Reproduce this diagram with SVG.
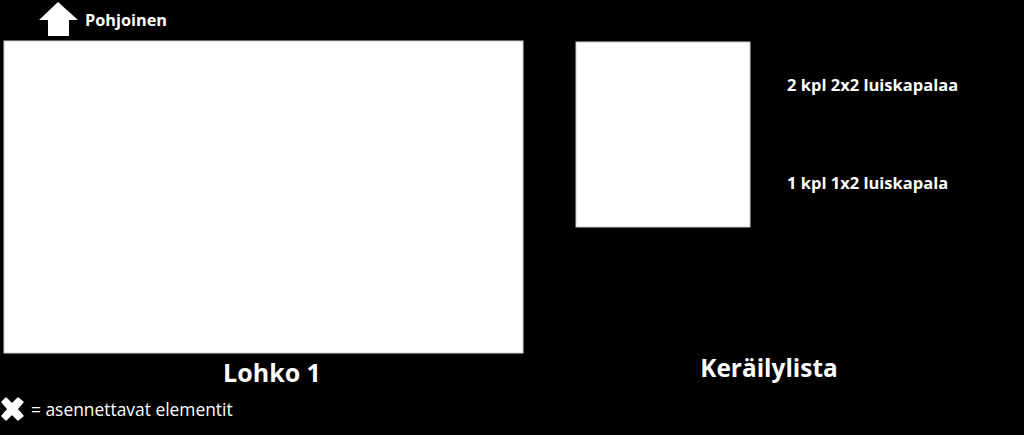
<svg xmlns="http://www.w3.org/2000/svg" width="1024" height="435" viewBox="0 0 1024 435">
<style>
text{fill:#fff;font-family:"Open Sans","Liberation Sans",sans-serif}
.b{font-weight:bold}
.blk{fill:#fff;stroke:#d0d0d0;stroke-width:1}
</style>
<rect x="0" y="0" width="1024" height="435" fill="#000"/>
<g id="north">
<polygon points="58,2 78,20 69,20 69,36 48,36 48,20 39,20" fill="#fff"/>
<text x="85" y="26" class="b" font-size="16.3">Pohjoinen</text>
</g>
<g id="lohko1">
<rect class="blk" x="4" y="41" width="519" height="312"/>
<text x="272" y="382" class="b" font-size="25" text-anchor="middle">Lohko 1</text>
</g>
<g id="kerailylista">
<rect class="blk" x="576" y="42" width="174" height="185"/>
<text x="787" y="91" class="b" font-size="16.5">2 kpl 2x2 luiskapalaa</text>
<text x="787" y="189" class="b" font-size="16.5">1 kpl 1x2 luiskapala</text>
<text x="769" y="377" class="b" font-size="24.4" text-anchor="middle">Keräilylista</text>
</g>
<g id="legend">
<path d="M2,402 L6,398 L12,404 L18,398 L23,402 L17,409 L23,416 L18,420 L12,414 L6,420 L2,416 L8,409 Z" fill="#fff" stroke="#fff" stroke-width="1.5" stroke-linejoin="round"/>
<text x="31" y="416" font-size="17.4">= asennettavat elementit</text>
</g>
<g id="connectors"></g>
</svg>
